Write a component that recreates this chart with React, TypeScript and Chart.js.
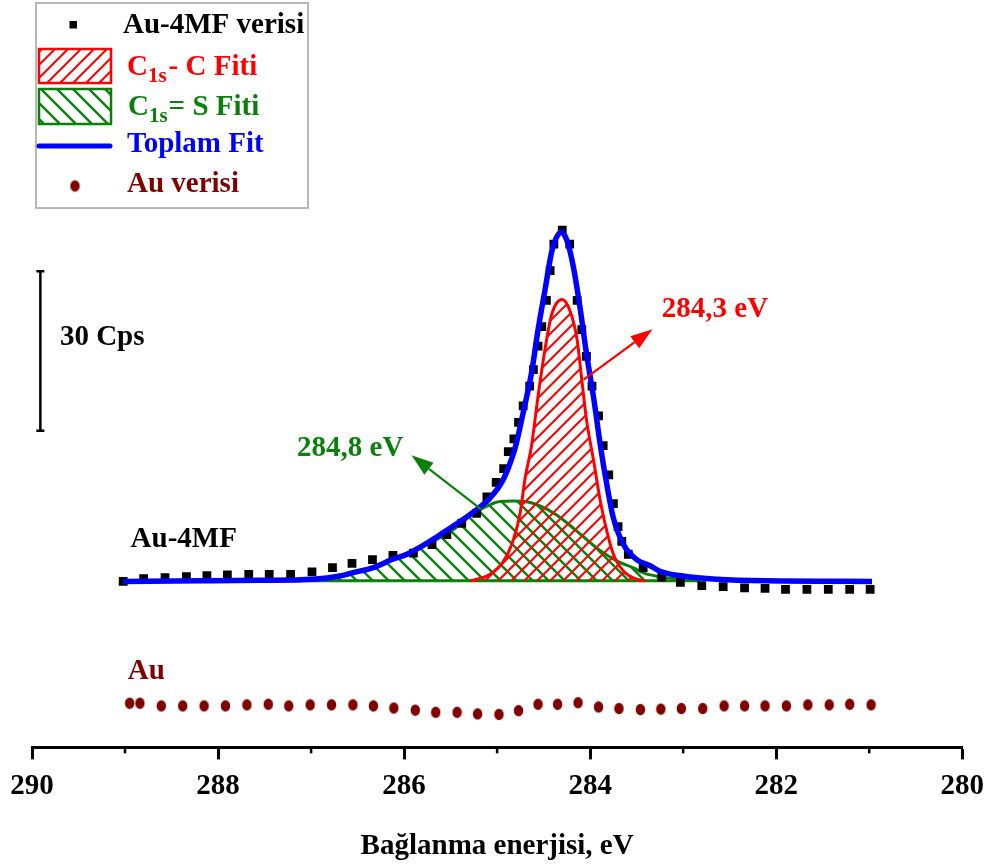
import React, { useEffect, useRef } from 'react';
import { Chart, registerables } from 'chart.js';

Chart.register(...registerables);

const FONT = '"Liberation Serif", "Times New Roman", serif';
const RED = '#ff0000';
const GREEN = '#0a800a';
const BLUE = '#0000ff';
const DARKRED = '#800000';

// ---- data (binding energy in eV, intensity in Cps) ----
const au4mfEnergy = [289.02, 288.80, 288.57, 288.34, 288.12, 287.90, 287.67, 287.45, 287.22, 286.99, 286.77, 286.56, 286.34, 286.12, 285.90, 285.70, 285.54, 285.38, 285.22, 285.11, 285.01, 284.93, 284.88, 284.82, 284.77, 284.72, 284.65, 284.61, 284.56, 284.52, 284.47, 284.43, 284.39, 284.30, 284.22, 284.14, 284.09, 284.04, 283.98, 283.91, 283.86, 283.80, 283.75, 283.70, 283.66, 283.59, 283.43, 283.23, 283.03, 282.80, 282.57, 282.34, 282.12, 281.90, 281.67, 281.44, 281.21, 280.99];
const au4mfCps = [31.2, 31.7, 31.9, 32.1, 32.3, 32.4, 32.5, 32.5, 32.5, 33.0, 33.8, 34.6, 35.3, 36.1, 36.5, 38.1, 40.0, 42.1, 44.0, 47.1, 49.8, 52.4, 55.6, 58.0, 61.1, 64.2, 67.9, 71.0, 75.4, 79.1, 84.0, 89.6, 94.6, 97.2, 94.6, 84.0, 78.5, 73.5, 67.9, 62.3, 56.7, 51.2, 45.8, 41.5, 38.7, 36.3, 33.8, 32.0, 31.0, 30.4, 30.2, 30.0, 29.9, 29.7, 29.7, 29.7, 29.7, 29.7];

const auEnergy = [288.95, 288.84, 288.61, 288.38, 288.15, 287.92, 287.69, 287.46, 287.24, 287.01, 286.78, 286.55, 286.33, 286.11, 285.88, 285.66, 285.43, 285.21, 284.98, 284.77, 284.56, 284.35, 284.13, 283.91, 283.69, 283.46, 283.24, 283.02, 282.79, 282.56, 282.34, 282.12, 281.89, 281.66, 281.43, 281.21, 280.98];
const auCps = [8.3, 8.3, 7.8, 7.8, 7.8, 7.8, 8.0, 8.1, 7.8, 8.0, 8.0, 8.0, 7.8, 7.4, 7.0, 6.6, 6.6, 6.3, 6.2, 6.9, 8.1, 8.1, 8.4, 7.6, 7.3, 7.1, 7.2, 7.3, 7.3, 7.8, 7.8, 7.8, 7.8, 8.0, 8.0, 8.1, 8.0];

const c1sCEnergy = [285.29, 285.22, 285.08, 284.93, 284.82, 284.75, 284.70, 284.63, 284.56, 284.48, 284.41, 284.30, 284.22, 284.14, 284.09, 284.04, 283.96, 283.89, 283.82, 283.75, 283.64, 283.50, 283.41];
const c1sCCps = [31.3, 31.6, 32.5, 35.0, 39.3, 44.3, 50.5, 56.7, 66.0, 75.4, 81.6, 84.2, 82.2, 76.6, 69.1, 61.7, 53.6, 46.2, 40.6, 36.3, 33.1, 31.6, 31.3];

const c1sSEnergy = [287.23, 286.98, 286.69, 286.56, 286.33, 286.12, 285.97, 285.69, 285.45, 285.26, 285.08, 284.97, 284.82, 284.70, 284.57, 284.36, 284.14, 283.93, 283.71, 283.53, 283.43, 283.18, 282.82];
const c1sSCps = [31.3, 31.6, 32.2, 32.8, 33.7, 35.2, 36.1, 38.7, 41.2, 43.9, 45.6, 46.2, 46.3, 46.2, 45.6, 43.7, 40.6, 37.5, 35.0, 33.7, 32.8, 31.9, 31.3];

const totalEnergy = [289.02, 288.19, 287.55, 286.98, 286.69, 286.56, 286.33, 286.12, 285.97, 285.69, 285.61, 285.32, 285.25, 285.08, 284.93, 284.82, 284.79, 284.72, 284.63, 284.56, 284.48, 284.41, 284.31, 284.25, 284.18, 284.11, 284.04, 283.96, 283.89, 283.82, 283.75, 283.64, 283.50, 283.35, 283.25, 283.00, 282.64, 282.10, 280.97];
const totalCps = [31.2, 31.3, 31.4, 31.6, 32.2, 32.8, 33.8, 35.4, 36.3, 39.1, 40.0, 43.4, 44.3, 46.8, 50.5, 55.5, 57.4, 62.9, 70.4, 78.5, 86.5, 93.4, 96.8, 95.3, 90.3, 82.8, 74.1, 65.4, 56.7, 49.3, 43.1, 38.1, 35.3, 34.1, 33.1, 32.2, 31.6, 31.3, 31.2];

const fitBaseline = 31.3;
const xMajorTicks = [290, 288, 286, 284, 282, 280];
const xMinorTicks = [289, 287, 285, 283, 281];

// annotations in data coordinates
const peakCLabel = { text: '284,3 eV', x: 283.23, y: 80.8 };
const peakCArrow = { x1: 284.07, y1: 69.1, x2: 283.33, y2: 78.6 };
const peakSLabel = { text: '284,8 eV', x: 287.15, y: 54.7 };
const peakSArrow = { x1: 285.16, y1: 44.6, x2: 285.92, y2: 54.9 };
const scaleBar = { x: 289.91, from: 59.5, to: 89.5, label: '30 Cps', labelX: 289.70, labelY: 75.7 };
const au4mfTag = { text: 'Au-4MF', x: 288.94, y: 37.6 };
const auTag = { text: 'Au', x: 288.97, y: 12.8 };

const zip = (xs: number[], ys: number[]) => xs.map((x, i) => ({ x, y: ys[i] }));

function makeHatch(ctx: CanvasRenderingContext2D, color: string, size: number, lw: number, forward: boolean) {
  const c = document.createElement('canvas');
  c.width = size;
  c.height = size;
  const g = c.getContext('2d')!;
  g.strokeStyle = color;
  g.lineWidth = lw;
  g.beginPath();
  if (forward) {
    g.moveTo(0, size); g.lineTo(size, 0);
    g.moveTo(-size / 2, size / 2); g.lineTo(size / 2, -size / 2);
    g.moveTo(size / 2, size * 1.5); g.lineTo(size * 1.5, size / 2);
  } else {
    g.moveTo(0, 0); g.lineTo(size, size);
    g.moveTo(-size / 2, size / 2); g.lineTo(size / 2, size * 1.5);
    g.moveTo(size / 2, -size / 2); g.lineTo(size * 1.5, size / 2);
  }
  g.stroke();
  return ctx.createPattern(c, 'repeat')!;
}

function makeDot() {
  const c = document.createElement('canvas');
  c.width = 11;
  c.height = 13;
  const g = c.getContext('2d')!;
  g.fillStyle = DARKRED;
  g.beginPath();
  g.ellipse(5.5, 6.5, 4.7, 5.8, 0, 0, Math.PI * 2);
  g.fill();
  return c;
}

function text(ctx: CanvasRenderingContext2D, s: string, x: number, y: number, color: string, size = 29) {
  ctx.font = `bold ${size}px ${FONT}`;
  ctx.fillStyle = color;
  ctx.textAlign = 'left';
  ctx.textBaseline = 'alphabetic';
  ctx.fillText(s, x, y);
  return ctx.measureText(s).width;
}

function arrow(ctx: CanvasRenderingContext2D, x1: number, y1: number, x2: number, y2: number, color: string) {
  const hl = 22, hw = 15;
  const a = Math.atan2(y2 - y1, x2 - x1);
  const bx = x2 - hl * Math.cos(a), by = y2 - hl * Math.sin(a);
  ctx.strokeStyle = color;
  ctx.lineWidth = 2.2;
  ctx.beginPath();
  ctx.moveTo(x1, y1);
  ctx.lineTo(bx, by);
  ctx.stroke();
  ctx.fillStyle = color;
  ctx.beginPath();
  ctx.moveTo(x2, y2);
  ctx.lineTo(bx + (hw / 2) * Math.sin(a), by - (hw / 2) * Math.cos(a));
  ctx.lineTo(bx - (hw / 2) * Math.sin(a), by + (hw / 2) * Math.cos(a));
  ctx.closePath();
  ctx.fill();
}

export default function App() {
  const ref = useRef<HTMLCanvasElement>(null);

  useEffect(() => {
    const canvas = ref.current!;
    const ctx0 = canvas.getContext('2d')!;
    const redPat = makeHatch(ctx0, RED, 13, 2, true);
    const greenPat = makeHatch(ctx0, GREEN, 16, 2.4, false);
    const dot = makeDot();

    const decor = {
      id: 'decor',
      afterDatasetDraw(chart: any, args: any) {
        if (args.meta.label !== 'C1s= S Fiti') return;
        const { ctx, scales } = chart;
        const xs = scales.x, ys = scales.y;
        ctx.save();
        ctx.strokeStyle = GREEN;
        ctx.lineWidth = 3;
        ctx.beginPath();
        ctx.moveTo(xs.getPixelForValue(c1sSEnergy[0]), ys.getPixelForValue(fitBaseline));
        ctx.lineTo(xs.getPixelForValue(c1sSEnergy[c1sSEnergy.length - 1]), ys.getPixelForValue(fitBaseline));
        ctx.stroke();
        ctx.restore();
      },
      afterDraw(chart: any) {
        const { ctx, scales, chartArea } = chart;
        const xs = scales.x, ys = scales.y;
        const px = (v: number) => xs.getPixelForValue(v);
        const py = (v: number) => ys.getPixelForValue(v);
        ctx.save();
        // minor ticks
        ctx.strokeStyle = '#000';
        ctx.lineWidth = 2.5;
        xMinorTicks.forEach((v) => {
          ctx.beginPath();
          ctx.moveTo(px(v), chartArea.bottom);
          ctx.lineTo(px(v), chartArea.bottom + 6);
          ctx.stroke();
        });
        // arrows + peak labels
        arrow(ctx, px(peakCArrow.x1), py(peakCArrow.y1), px(peakCArrow.x2), py(peakCArrow.y2), RED);
        arrow(ctx, px(peakSArrow.x1), py(peakSArrow.y1), px(peakSArrow.x2), py(peakSArrow.y2), GREEN);
        text(ctx, peakCLabel.text, px(peakCLabel.x), py(peakCLabel.y), RED);
        text(ctx, peakSLabel.text, px(peakSLabel.x), py(peakSLabel.y), GREEN);
        text(ctx, au4mfTag.text, px(au4mfTag.x), py(au4mfTag.y), '#000');
        text(ctx, auTag.text, px(auTag.x), py(auTag.y), DARKRED);
        // scale bar
        const sx = px(scaleBar.x), st = py(scaleBar.to), sb = py(scaleBar.from);
        ctx.strokeStyle = '#000';
        ctx.lineWidth = 2.5;
        ctx.beginPath();
        ctx.moveTo(sx, st); ctx.lineTo(sx, sb);
        ctx.moveTo(sx - 4, st); ctx.lineTo(sx + 4, st);
        ctx.moveTo(sx - 4, sb); ctx.lineTo(sx + 4, sb);
        ctx.stroke();
        text(ctx, scaleBar.label, px(scaleBar.labelX), py(scaleBar.labelY), '#000');

        // legend box
        ctx.fillStyle = '#fff';
        ctx.fillRect(36, 3, 272, 205);
        ctx.strokeStyle = '#a0a0a0';
        ctx.lineWidth = 1.5;
        ctx.strokeRect(36, 3, 272, 205);
        // item 1: squares
        ctx.fillStyle = '#000';
        ctx.fillRect(69.5, 21, 7.5, 7.5);
        text(ctx, 'Au-4MF verisi', 123, 33, '#000');
        // item 2: red hatch
        ctx.fillStyle = redPat;
        ctx.fillRect(39, 49, 72, 34);
        ctx.strokeStyle = RED;
        ctx.lineWidth = 2.5;
        ctx.strokeRect(39, 49, 72, 34);
        let w = text(ctx, 'C', 127, 75, RED);
        let w2 = text(ctx, '1s', 127 + w, 82, RED, 21);
        text(ctx, '- C Fiti', 127 + w + w2 + 2, 75, RED);
        // item 3: green hatch
        ctx.fillStyle = greenPat;
        ctx.fillRect(39, 89, 72, 35);
        ctx.strokeStyle = GREEN;
        ctx.strokeRect(39, 89, 72, 35);
        w = text(ctx, 'C', 128, 115, GREEN);
        w2 = text(ctx, '1s', 128 + w, 122, GREEN, 21);
        text(ctx, '= S Fiti', 128 + w + w2 + 1, 115, GREEN);
        // item 4: blue line
        ctx.strokeStyle = BLUE;
        ctx.lineWidth = 5;
        ctx.lineCap = 'round';
        ctx.beginPath();
        ctx.moveTo(39, 146); ctx.lineTo(110, 146);
        ctx.stroke();
        ctx.lineCap = 'butt';
        text(ctx, 'Toplam Fit', 127, 152, BLUE);
        // item 5: dark red dot
        ctx.drawImage(dot, 69.5, 179.5);
        text(ctx, 'Au verisi', 127, 192, DARKRED);
        ctx.restore();
      },
    };

    const chart = new Chart(canvas, {
      type: 'scatter',
      data: {
        datasets: [
          {
            label: 'Au verisi',
            data: zip(auEnergy, auCps),
            pointStyle: dot as any,
            pointRadius: 5,
            order: 0,
          },
          {
            label: 'Toplam Fit',
            data: zip(totalEnergy, totalCps),
            showLine: true,
            borderColor: BLUE,
            borderWidth: 5.5,
            pointRadius: 0,
            cubicInterpolationMode: 'monotone',
            order: 1,
          },
          {
            label: 'Au-4MF verisi',
            data: zip(au4mfEnergy, au4mfCps),
            pointStyle: 'rect',
            pointRadius: 6.2,
            backgroundColor: '#000',
            borderColor: '#000',
            borderWidth: 0,
            order: 2,
          },
          {
            label: 'C1s- C Fiti',
            data: zip(c1sCEnergy, c1sCCps),
            showLine: true,
            borderColor: RED,
            borderWidth: 3,
            pointRadius: 0,
            backgroundColor: redPat as any,
            fill: { value: fitBaseline } as any,
            cubicInterpolationMode: 'monotone',
            order: 3,
          },
          {
            label: 'C1s= S Fiti',
            data: zip(c1sSEnergy, c1sSCps),
            showLine: true,
            borderColor: GREEN,
            borderWidth: 3,
            pointRadius: 0,
            backgroundColor: greenPat as any,
            fill: { value: fitBaseline } as any,
            cubicInterpolationMode: 'monotone',
            order: 4,
          },
        ],
      },
      options: {
        animation: false,
        responsive: true,
        maintainAspectRatio: false,
        devicePixelRatio: 1,
        layout: { padding: { left: 32, right: 31, top: 0, bottom: 0 } },
        plugins: { legend: { display: false }, tooltip: { enabled: false } },
        scales: {
          x: {
            type: 'linear',
            reverse: true,
            min: 280,
            max: 290,
            border: { display: true, color: '#000', width: 3 },
            grid: {
              display: true,
              drawOnChartArea: false,
              drawTicks: true,
              tickLength: 12,
              tickWidth: 3,
              tickColor: (c: any) => (xMajorTicks.includes(c.tick?.value) ? '#000' : 'rgba(0,0,0,0)'),
            },
            ticks: {
              stepSize: 1,
              autoSkip: false,
              maxRotation: 0,
              padding: 10,
              color: '#000',
              font: { family: FONT, size: 29, weight: 'bold' },
              callback: (v: any) => (xMajorTicks.includes(Number(v)) ? String(v) : ''),
            },
            title: {
              display: true,
              text: 'Bağlanma enerjisi, eV',
              color: '#000',
              font: { family: FONT, size: 29, weight: 'bold' },
              padding: { top: 15, bottom: 2 },
            },
          },
          y: {
            display: false,
            min: 0,
            max: 139.3,
          },
        },
      },
      plugins: [decor],
    });
    return () => chart.destroy();
  }, []);

  return (
    <div style={{ position: 'fixed', left: 0, top: 0, width: 994, height: 866, background: '#fff' }}>
      <canvas ref={ref} />
    </div>
  );
}
